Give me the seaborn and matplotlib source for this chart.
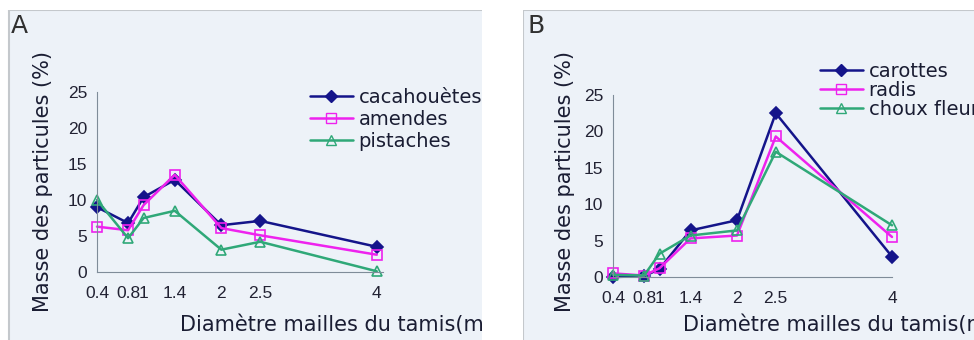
import pandas as pd
import matplotlib
matplotlib.use("Agg")
import matplotlib.pyplot as plt
import seaborn as sns
from matplotlib.patches import Rectangle
from matplotlib.lines import Line2D

# data
diametres = [0.4, 0.8, 1, 1.4, 2, 2.5, 4]
tick_labels = ["0.4", "0.8", "1", "1.4", "2", "2.5", "4"]

cacahouetes = [9.0, 6.8, 10.4, 12.8, 6.5, 7.1, 3.5]
amendes = [6.3, 5.8, 9.3, 13.5, 6.1, 5.1, 2.4]
pistaches = [10.0, 4.7, 7.5, 8.5, 3.1, 4.2, 0.1]

carottes = [0.0, 0.1, 1.1, 6.4, 7.8, 22.5, 2.8]
radis = [0.5, 0.2, 1.2, 5.3, 5.7, 19.3, 5.5]
choux = [0.3, 0.2, 3.2, 5.7, 6.4, 17.2, 7.1]

noms_a = ["cacahouètes", "amendes", "pistaches"]
noms_b = ["carottes", "radis", "choux fleur"]

couleurs = ["#14148a", "#ee22ee", "#2fa878"]
marqueurs = ["D", "s", "^"]

def long_df(noms, series):
    rows = []
    for nom, vals in zip(noms, series):
        for x, y in zip(diametres, vals):
            rows.append({"diametre": x, "masse": y, "serie": nom})
    return pd.DataFrame(rows)

df_a = long_df(noms_a, [cacahouetes, amendes, pistaches])
df_b = long_df(noms_b, [carottes, radis, choux])

sns.set_style("white")
plt.rcParams["font.family"] = ["DejaVu Sans"]

W, H = 974, 340
fig = plt.figure(figsize=(9.74, 3.4), dpi=100)
fig.patch.set_facecolor("white")

def fx(px):
    return px / W

def fy(py):
    return 1 - py / H

panel_bg = "#edf2f8"
bord = "#c4c8cc"
texte = "#1a1d33"
# panel backgrounds
for x0, x1 in [(9, 482), (523, 974)]:
    fig.add_artist(Rectangle((fx(x0), 0), fx(x1 - x0), fy(10), transform=fig.transFigure,
                             facecolor=panel_bg, edgecolor="none", zorder=-5))
    fig.add_artist(Line2D([fx(x0), fx(x0)], [0, fy(10)], transform=fig.transFigure,
                          color=bord, lw=1.5, zorder=-4))
    fig.add_artist(Line2D([fx(x0), fx(x1)], [fy(10), fy(10)], transform=fig.transFigure,
                          color=bord, lw=1.5, zorder=-4))

def draw_panel(rect, df, noms, xlim, legend_anchor, leg_fs, leg_sp, lettre, letter_x, ylab_x, xlab_x):
    ax = fig.add_axes(rect)
    ax.set_facecolor("none")
    sns.lineplot(data=df, x="diametre", y="masse", hue="serie", style="serie",
                 hue_order=noms, style_order=noms,
                 palette=dict(zip(noms, couleurs)), markers=dict(zip(noms, marqueurs)),
                 dashes=False, linewidth=1.8, markersize=6.5, markeredgewidth=1.2,
                 ax=ax, legend=False, clip_on=False, sort=False)
    for line, c in zip(ax.lines, couleurs):
        line.set_markerfacecolor(c if c == couleurs[0] else "none")
        line.set_markeredgecolor(c)
    ax.set_xlim(*xlim)
    ax.set_ylim(0, 25)
    ax.set_xticks(diametres)
    ax.set_xticklabels(tick_labels)
    ax.set_yticks([0, 5, 10, 15, 20, 25])
    ax.tick_params(axis="both", length=0, labelsize=12.5, labelcolor="#222233")
    ax.tick_params(axis="x", pad=10)
    ax.tick_params(axis="y", pad=7)
    for lab in ax.get_xticklabels() + ax.get_yticklabels():
        lab.set_fontfamily("Liberation Sans")
    for s in ["top", "right"]:
        ax.spines[s].set_visible(False)
    for s in ["left", "bottom"]:
        ax.spines[s].set_color("#7f8c99")
        ax.spines[s].set_linewidth(0.8)
    ax.set_xlabel("")
    ax.set_ylabel("")
    handles = [Line2D([], [], color=c, marker=m, lw=1.8, ms=6.5,
                      markerfacecolor=(c if i == 0 else "none"), markeredgecolor=c)
               for i, (c, m) in enumerate(zip(couleurs, marqueurs))]
    ax.legend(handles, noms, loc="upper left", bbox_to_anchor=legend_anchor,
              bbox_transform=fig.transFigure, frameon=False, fontsize=leg_fs,
              handlelength=2.2, handletextpad=0.3, labelspacing=leg_sp, borderpad=0,
              borderaxespad=0, labelcolor=texte)
    fig.text(fx(letter_x), fy(26), lettre, fontsize=18, color="#303030", ha="left", va="center")
    fig.text(fx(ylab_x), fy(182), "Masse des particules (%)", rotation=90, fontsize=15,
             color=texte, ha="center", va="center")
    fig.text(fx(xlab_x), fy(325), "Diamètre mailles du tamis(mm)", fontsize=15,
             color=texte, ha="left", va="center")
    return ax

# panel A : axis x 97..383 px, y 272..92 px
ax_a = draw_panel([fx(97), fy(272), fx(383 - 97), (272 - 92) / H], df_a, noms_a,
                  (0.4, 4.08), (fx(310), fy(88)), 14, 0.15, "A", 11, 43, 180)
# panel B : axis x 613..892 px, y 277..95 px
ax_b = draw_panel([fx(613), fy(277), fx(892 - 613), (277 - 95) / H], df_b, noms_b,
                  (0.5, 3.97), (fx(820), fy(62)), 14, 0.0, "B", 527, 565, 683)

# white gap between panels cuts the overflowing text, as in the original
fig.add_artist(Rectangle((fx(482), 0), fx(523 - 482), 1, transform=fig.transFigure,
                         facecolor="white", edgecolor="none", zorder=20))
fig.add_artist(Rectangle((0, fy(10)), 1, 10 / H, transform=fig.transFigure,
                         facecolor="white", edgecolor="none", zorder=19))

fig.savefig("out.png", dpi=100, facecolor="white")
